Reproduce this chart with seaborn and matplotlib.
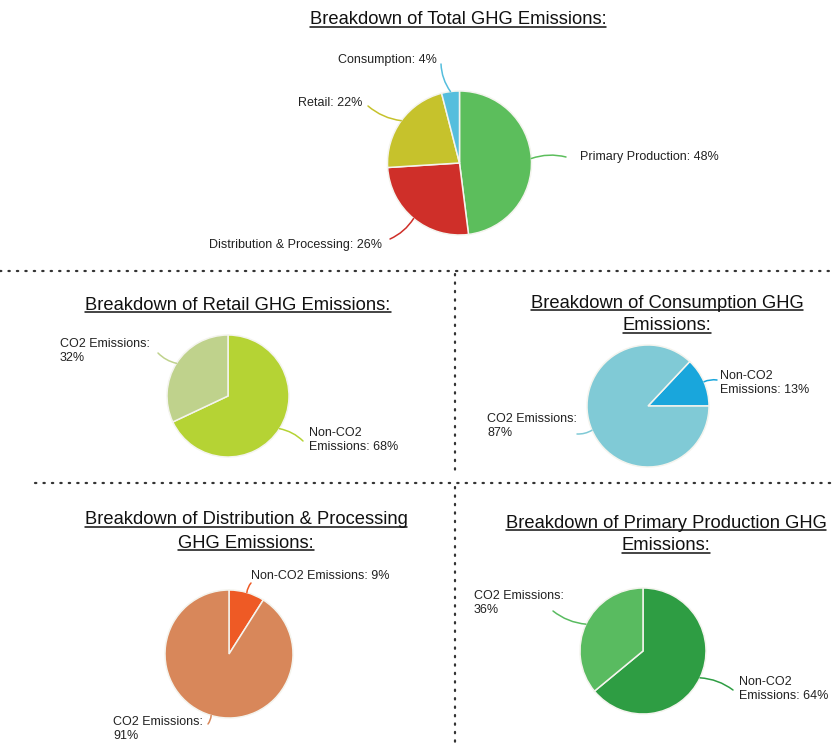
import numpy as np
import matplotlib
matplotlib.use("Agg")
import matplotlib.pyplot as plt
import seaborn as sns

# ---------------- data ----------------
total_labels = ["Primary Production", "Distribution & Processing", "Retail", "Consumption"]
total_values = [48, 26, 22, 4]

retail_labels = ["Non-CO2\nEmissions", "CO2 Emissions:\n"]
retail_values = [68, 32]

consumption_labels = ["Non-CO2\nEmissions", "CO2 Emissions:\n"]
consumption_values = [13, 87]

distribution_labels = ["Non-CO2 Emissions", "CO2 Emissions:\n"]
distribution_values = [9, 91]

primary_labels = ["Non-CO2\nEmissions", "CO2 Emissions:\n"]
primary_values = [64, 36]

# ---------------- styling ----------------
sns.set_theme(style="white")
plt.rcParams["font.family"] = ["Liberation Sans", "DejaVu Sans"]

W, H = 832, 745
fig = plt.figure(figsize=(W / 100, H / 100), dpi=100)
ax = fig.add_axes([0, 0, 1, 1])


def Y(y):
    return H - y


def label_text(lab, v):
    if lab.endswith("\n"):
        return f"{lab}{v}%"
    return f"{lab}: {v}%"


def draw_pie(values, labels, colors, center, r, startangle, counterclock, lab_specs):
    cx, cy = center
    wedges, _ = ax.pie(values, colors=colors, startangle=startangle,
                       counterclock=counterclock, center=(cx, Y(cy)), radius=r,
                       frame=True,
                       wedgeprops=dict(edgecolor="#f4f4ee", linewidth=1.1))
    for w, lab, v, spec, col in zip(wedges, labels, values, lab_specs, colors):
        mid = np.deg2rad((w.theta1 + w.theta2) / 2)
        x0 = cx + r * np.cos(mid)
        y0 = Y(cy) + r * np.sin(mid)
        (tx, ty, ha, lx, ly) = spec
        ax.annotate("", xy=(x0, y0), xytext=(lx, Y(ly)),
                    arrowprops=dict(arrowstyle="-", color=col, lw=1.1,
                                    connectionstyle="arc3,rad=0.15",
                                    shrinkA=0, shrinkB=0))
        ax.text(tx, Y(ty), label_text(lab, v), ha=ha, va="center",
                fontsize=9, color="#222222", linespacing=1.2, multialignment="left")
    return wedges


# Total
draw_pie(total_values, total_labels,
         ["#5cbe5c", "#cf2f29", "#c6c22c", "#55bedd"],
         (459.5, 163), 72, 90, False,
         [(580, 157, "left", 566, 157),
          (382, 245, "right", 390, 239),
          (362, 103, "right", 368, 106),
          (437, 60, "right", 441, 64)])

# Retail
draw_pie(retail_values, retail_labels,
         ["#b5d334", "#bfd28c"],
         (228, 396), 61, 90, False,
         [(309, 440, "left", 303, 441),
          (60, 351, "left", 158, 353)])

# Consumption
draw_pie(consumption_values, consumption_labels,
         ["#19a6dc", "#80cad6"],
         (648, 406), 61, 0, True,
         [(720, 383, "left", 717, 380),
          (487, 426, "left", 577, 434)])

# Distribution & Processing
draw_pie(distribution_values, distribution_labels,
         ["#ee5a25", "#d8875a"],
         (229, 654), 64, 90, False,
         [(251, 576, "left", 251, 583),
          (113, 729, "left", 208, 724)])

# Primary Production
draw_pie(primary_values, primary_labels,
         ["#2e9d43", "#59bb60"],
         (643, 651), 63, 90, False,
         [(739, 689, "left", 733, 690),
          (474, 603, "left", 553, 611)])

# dotted separators
dot = dict(color="#333333", lw=1.6, linestyle=(0, (0.6, 3.2)), solid_capstyle="round",
           dash_capstyle="round")
ax.plot([0, W], [Y(271), Y(271)], **dot)
ax.plot([35, W], [Y(483), Y(483)], **dot)
ax.plot([455, 455], [Y(274), Y(470)], **dot)
ax.plot([455, 455], [Y(487), Y(H)], **dot)

# titles (underlined)
titles = [
    ("Breakdown of Total GHG Emissions:", 458, 20),
    ("Breakdown of Retail GHG Emissions:", 238, 305),
    ("Breakdown of Consumption GHG", 667, 303),
    ("Emissions:", 667, 326),
    ("Breakdown of Distribution & Processing", 246, 520),
    ("GHG Emissions:", 246, 543),
    ("Breakdown of Primary Production GHG", 666, 523),
    ("Emissions:", 666, 546),
]
tobjs = []
for t, x, y in titles:
    tobjs.append(ax.text(x, Y(y), t, ha="center", va="center", fontsize=13.2, color="#111111"))

ax.set_xlim(0, W)
ax.set_ylim(0, H)
ax.set_aspect("auto")
ax.axis("off")

fig.canvas.draw()
renderer = fig.canvas.get_renderer()
inv = ax.transData.inverted()
for t in tobjs:
    bb = t.get_window_extent(renderer)
    (x0, y0) = inv.transform((bb.x0, bb.y0 + 1.5))
    (x1, _) = inv.transform((bb.x1, bb.y0 + 1.5))
    ax.plot([x0, x1], [y0, y0], color="#111111", lw=1.1)

ax.set_xlim(0, W)
ax.set_ylim(0, H)
fig.savefig("out.png", dpi=100, facecolor="white")
